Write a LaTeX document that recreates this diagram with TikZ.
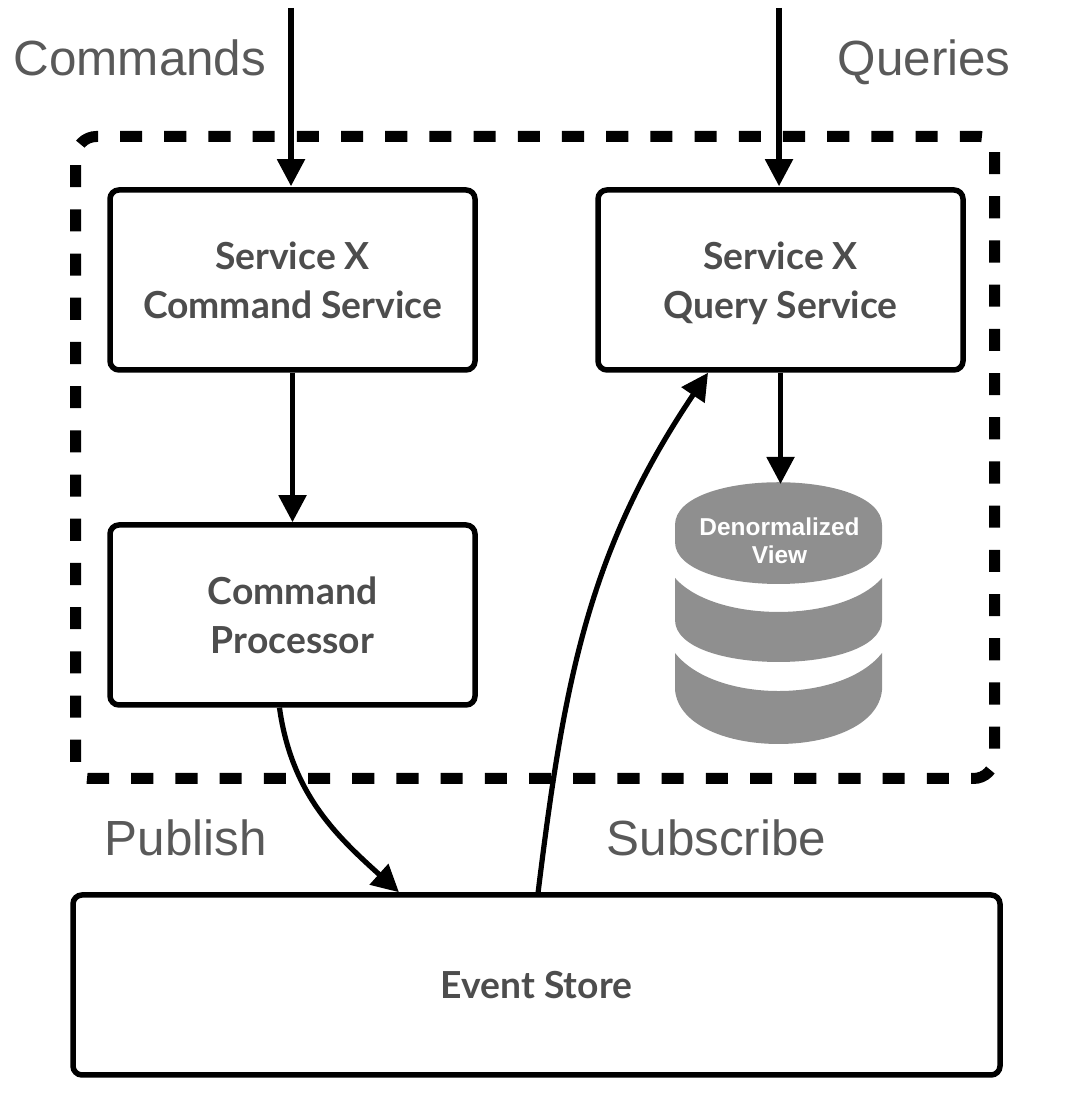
\documentclass[tikz,border=0pt]{standalone}
\usepackage{fontspec}
\setmainfont{Liberation Sans}
\newfontfamily\boxfont{Lato}
\usetikzlibrary{arrows.meta}

\definecolor{labelgray}{HTML}{595959}
\definecolor{boxgray}{HTML}{4D4D4D}
\definecolor{dbgray}{HTML}{8F8F8F}

\tikzset{
  servicebox/.style={draw, line width=0.055cm, rounded corners=0.09cm, minimum width=3.65cm, minimum height=1.8cm,
    align=center, text=boxgray, font=\boxfont\bfseries\fontsize{10.6}{14}\selectfont},
  flow/.style={line width=0.052cm, -{Triangle[width=0.27cm,length=0.27cm]}, shorten >=0.01cm},
  sidelabel/.style={anchor=base west, inner sep=0pt, text=labelgray, font=\fontsize{14.05}{16}\selectfont},
  dbtext/.style={align=center, text=white, font=\bfseries\fontsize{6.95}{8}\selectfont}
}

\begin{document}
\begin{tikzpicture}
  \useasboundingbox (0,0) rectangle (10.64,10.98);

  % boundary of the service
  \draw [line width=0.11cm, dash pattern=on 0.221cm off 0.221cm]
    (1.20,9.615) [rounded corners=0.14cm] -- (9.945,9.615) [rounded corners=0.21cm] -- (9.945,3.195)
    [rounded corners=0.14cm] -- (0.755,3.195) [rounded corners=0.21cm] -- (0.755,9.615) -- (0.98,9.615);

  \node [servicebox] (cmdbox) at (2.925,8.18) {Service X\\Command Service};
  \node [servicebox] (querybox) at (7.805,8.18) {Service X\\\smash{Query} Service};
  \node [servicebox] (procbox) at (2.925,4.83) {Command\\Processor};
  \node [servicebox, minimum width=9.27cm] (storebox) at (5.365,1.13) {Event Store};

  % database
  \fill [dbgray] (6.75,5.73) .. controls (6.75,6.30) and (8.82,6.30) .. (8.82,5.73) -- (8.82,5.56)
    .. controls (8.82,5.00) and (6.75,5.00) .. (6.75,5.56) -- cycle;
  \fill [dbgray] (6.75,5.20) .. controls (7.15,4.747) and (8.42,4.747) .. (8.82,5.20) -- (8.82,4.78)
    .. controls (8.82,4.22) and (6.75,4.22) .. (6.75,4.78) -- cycle;
  \fill [dbgray] (6.75,4.45) .. controls (7.15,3.943) and (8.42,3.943) .. (8.82,4.45) -- (8.82,4.08)
    .. controls (8.75,3.36) and (6.82,3.36) .. (6.75,4.08) -- cycle;
  \node [dbtext] (viewlabel) at (7.795,5.57) {Denormalized\\View};
  \coordinate (viewtop) at (7.805,6.14);

  \coordinate (cmdin) at (2.91,10.90);
  \coordinate (queryin) at (7.79,10.90);
  \draw [flow] (cmdin) -- (cmdin |- cmdbox.north);
  \draw [flow] (queryin) -- (queryin |- querybox.north);
  \draw [flow, shorten >=0pt] (cmdbox.south) -- (procbox.north);
  \draw [flow, shorten >=0pt] (querybox.south) -- (viewtop);
  \draw [flow, shorten >=0pt] (procbox.-98) to [out=-82,in=138] (storebox.146.5);
  \draw [flow, shorten >=0pt] (storebox.89) to [out=83,in=236] (querybox.232);

  \node [sidelabel] (cmdlabel) at (0.13,10.22) {Commands};
  \node [sidelabel] (querylabel) at (8.37,10.22) {Queries};
  \node [sidelabel] (publabel) at (1.04,2.42) {Publish};
  \node [sidelabel] (sublabel) at (6.06,2.42) {Subscribe};
\end{tikzpicture}
\end{document}
